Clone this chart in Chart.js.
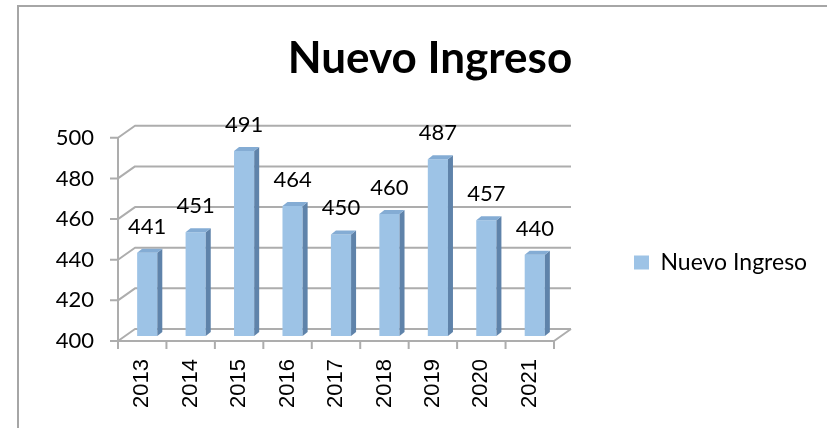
<!DOCTYPE html>
<html><head><meta charset="utf-8">
<script src="https://cdn.jsdelivr.net/npm/chart.js@4/dist/chart.umd.min.js"></script>
<style>html,body{margin:0;padding:0;background:#fff;overflow:hidden}canvas{display:block}</style>
</head><body>
<canvas id="c" width="827" height="428"></canvas>
<script>
const chartTitle = 'Nuevo Ingreso';
const seriesName = 'Nuevo Ingreso';
const categories = ['2013','2014','2015','2016','2017','2018','2019','2020','2021'];
const values = [441, 451, 491, 464, 450, 460, 487, 457, 440];
const yMin = 400, yMax = 500, yStep = 20;

const DEPTH_X = 17, DEPTH_Y = 12, BAR_DX = 5, BAR_DY = 5, SIDE = 5, CAP = 4;
const GRID = '#adadad';
const FRONT = '#9dc3e6', SIDEC = '#5f83aa', TOPC = '#84acd4';

const threeD = {
  id: 'threeD',
  afterLayout(chart) {
    const lg = chart.legend;
    const P = lg.options.labels.padding;
    const sx = 634 - (lg.left + P);
    lg.left += sx;
    lg.right = chart.width;
    lg.width = lg.right - lg.left;
    const ih = 23;
    const sy = 251 - (lg.top + lg.bottom - ih) / 2;
    lg.top += sy; lg.bottom += sy;
    const tb = chart.titleBlock;
    if (tb) { const s = 430 - (tb.left + tb.right) / 2; tb.left += s; tb.right += s; }
  },
  beforeDraw(chart) {
    const ctx = chart.ctx, y = chart.scales.y, x = chart.scales.x, a = chart.chartArea;
    ctx.save();
    ctx.strokeStyle = '#a6a6a6'; ctx.lineWidth = 2;
    ctx.beginPath(); ctx.moveTo(18, 430); ctx.lineTo(18, 6); ctx.lineTo(830, 6); ctx.stroke();
    ctx.strokeStyle = GRID; ctx.lineWidth = 2; ctx.lineJoin = 'round';
    y.ticks.forEach(t => {
      const py = y.getPixelForValue(t.value);
      ctx.beginPath();
      ctx.moveTo(a.left - 8, py); ctx.lineTo(a.left, py);
      ctx.lineTo(a.left + DEPTH_X, py - DEPTH_Y); ctx.lineTo(a.right + DEPTH_X, py - DEPTH_Y);
      ctx.stroke();
    });
    ctx.beginPath();
    ctx.moveTo(a.left, a.top); ctx.lineTo(a.left, a.bottom);
    ctx.lineTo(a.right, a.bottom); ctx.lineTo(a.right + DEPTH_X, a.bottom - DEPTH_Y);
    ctx.stroke();
    const half = (x.getPixelForValue(1) - x.getPixelForValue(0)) / 2;
    ctx.beginPath();
    for (let i = 0; i <= categories.length; i++) {
      const px = x.getPixelForValue(i) - half;
      ctx.moveTo(px, a.bottom); ctx.lineTo(px, a.bottom + 8);
    }
    ctx.stroke();
    ctx.restore();
  },
  beforeDatasetsDraw(chart) {
    chart.ctx.save();
    chart.ctx.translate(BAR_DX, -BAR_DY);
  },
  afterDatasetsDraw(chart) {
    const ctx = chart.ctx;
    const meta = chart.getDatasetMeta(0);
    const floor = chart.scales.y.getPixelForValue(yMin);
    meta.data.forEach((el, i) => {
      const l = el.x - el.width / 2, r = el.x + el.width / 2, t = el.y, b = Math.min(el.base, floor);
      ctx.fillStyle = SIDEC;
      ctx.beginPath();
      ctx.moveTo(r, t); ctx.lineTo(r + SIDE, t - CAP); ctx.lineTo(r + SIDE, b - CAP); ctx.lineTo(r, b);
      ctx.closePath(); ctx.fill();
      ctx.fillStyle = TOPC;
      ctx.beginPath();
      ctx.moveTo(l, t); ctx.lineTo(l + SIDE, t - CAP); ctx.lineTo(r + SIDE, t - CAP); ctx.lineTo(r, t);
      ctx.closePath(); ctx.fill();
      ctx.fillStyle = '#000';
      ctx.font = '22px Lato';
      ctx.textAlign = 'center'; ctx.textBaseline = 'alphabetic';
      ctx.fillText(String(values[i]), el.x, t - 19);
    });
    ctx.restore();
  }
};

new Chart(document.getElementById('c'), {
  type: 'bar',
  data: {
    labels: categories,
    datasets: [{
      label: seriesName,
      data: values,
      backgroundColor: FRONT,
      borderWidth: 0,
      barPercentage: 0.52,
      categoryPercentage: 0.8
    }]
  },
  options: {
    responsive: false,
    animation: false,
    devicePixelRatio: 1,
    layout: { padding: { left: 0, right: 73, top: 0, bottom: 0 } },
    plugins: {
      title: {
        display: true, text: chartTitle, color: '#000',
        font: { family: 'Lato', size: 44, weight: 'bold', lineHeight: 1.2 },
        padding: { top: 32, bottom: 53 }
      },
      legend: {
        display: true, position: 'right', align: 'center', maxWidth: 200,
        labels: { boxWidth: 15, boxHeight: 14, padding: 30, color: '#000',
          font: { family: 'Lato', size: 23 } }
      },
      tooltip: { enabled: false }
    },
    scales: {
      y: {
        min: yMin, max: yMax,
        afterFit(s) { s.width = 118; },
        ticks: { stepSize: yStep, padding: 16, color: '#000', font: { family: 'Lato', size: 22 } },
        grid: { color: 'rgba(0,0,0,0)', drawTicks: true, tickLength: 8 },
        border: { display: false }
      },
      x: {
        afterFit(s) { s.height = 87; },
        ticks: { minRotation: 90, maxRotation: 90, autoSkip: false, padding: 10, color: '#000',
          font: { family: 'Liberation Sans', size: 22 } },
        grid: { color: 'rgba(0,0,0,0)', drawTicks: true, tickLength: 8 },
        border: { display: false }
      }
    }
  },
  plugins: [threeD]
});
</script>
</body></html>
